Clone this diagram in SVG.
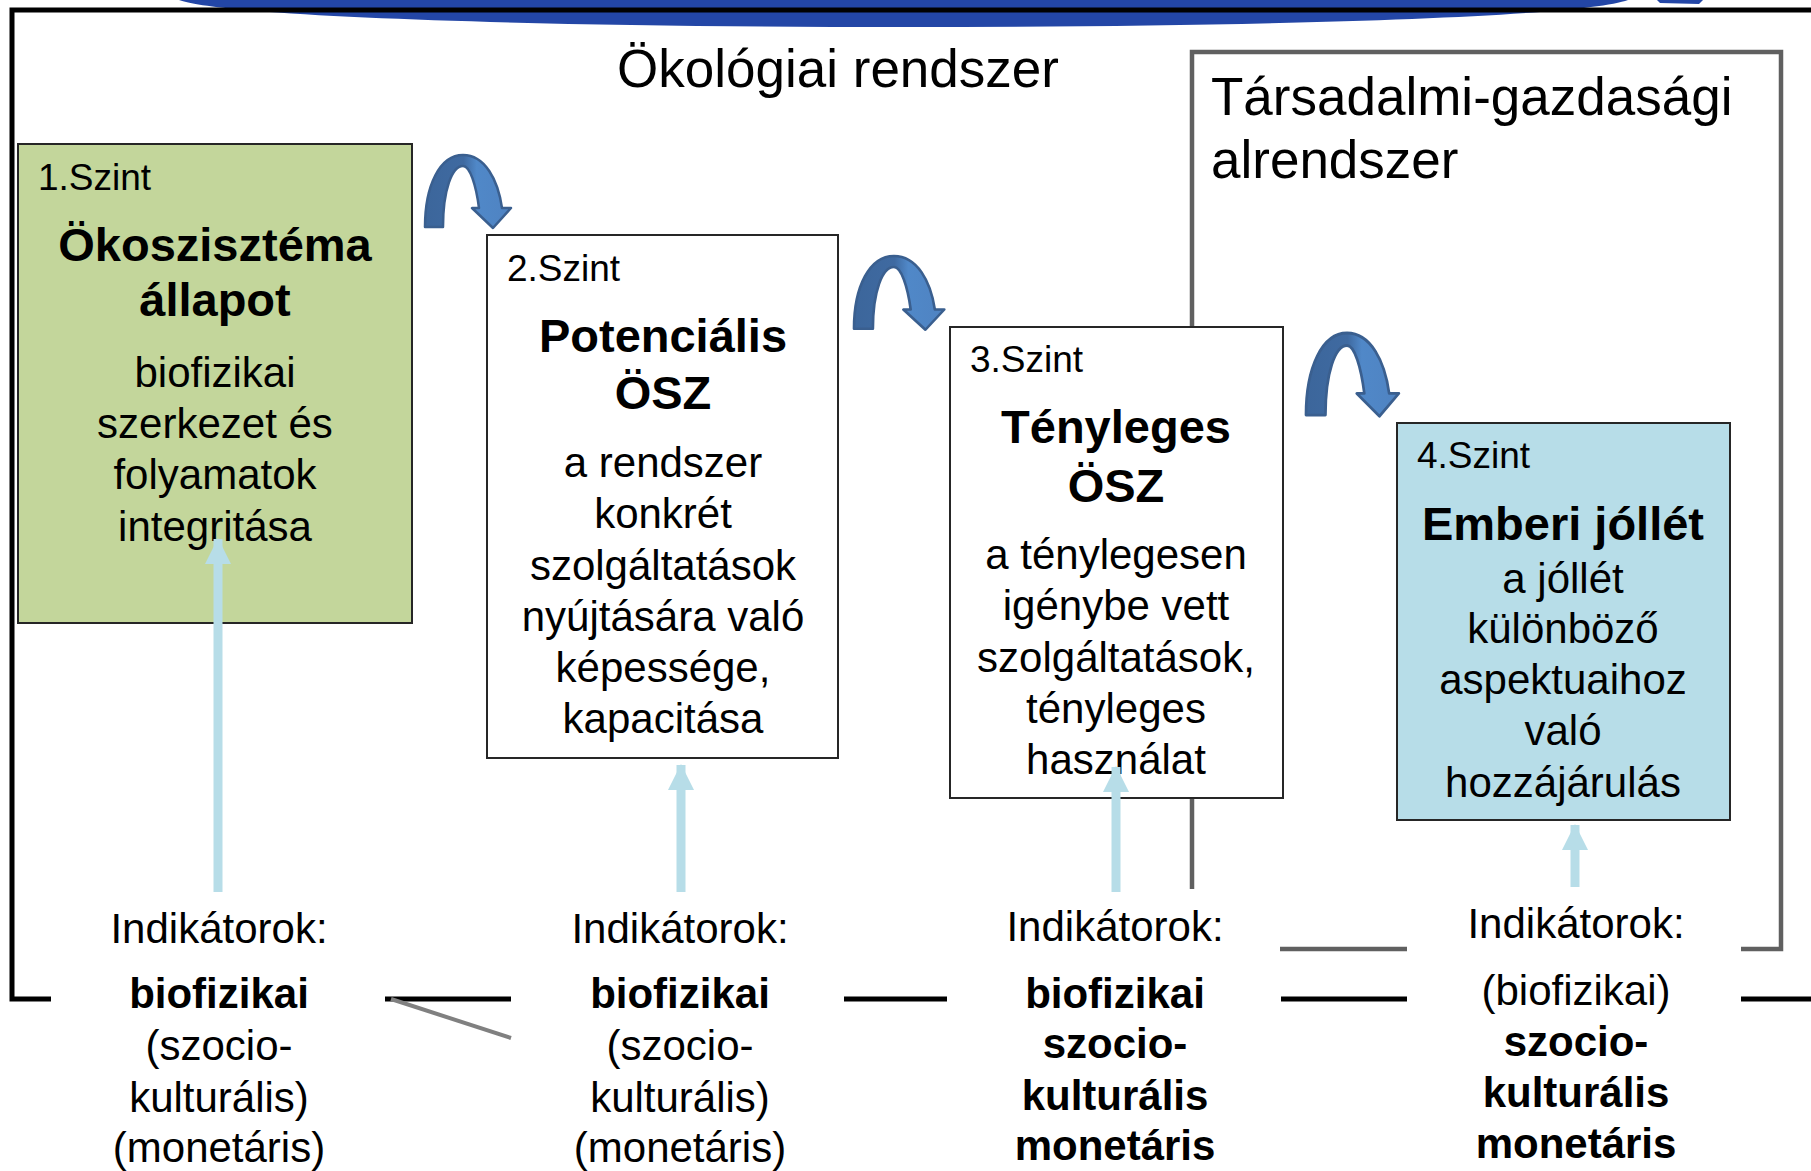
<svg xmlns="http://www.w3.org/2000/svg" width="1811" height="1171" viewBox="0 0 1811 1171">
<defs>
<style>
text{font-family:"Liberation Sans",Arial,sans-serif;fill:#000;}
.lvl{font-size:37px;}
.ttl{font-size:47px;font-weight:bold;text-anchor:middle;}
.bd{font-size:42px;text-anchor:middle;}
.bb{font-size:42px;font-weight:bold;text-anchor:middle;}
.big{font-size:53px;}
.box{stroke:#262626;stroke-width:2;}
.blk{fill:none;stroke:#000;stroke-width:5;}
.gry{fill:none;stroke:#606060;stroke-width:4.5;}
.up{stroke:#b7dde8;stroke-width:9;fill:none;marker-end:url(#uphead);}
.curv{fill:url(#cg);stroke:#3a5f8f;stroke-width:2.5;stroke-linejoin:round;}
</style>
<marker id="uphead" markerUnits="userSpaceOnUse" markerWidth="26" markerHeight="26" viewBox="0 0 26 26" refX="25" refY="13" orient="auto">
<path d="M0,0 L26,13 L0,26 z" fill="#b7dde8"/>
</marker>
<linearGradient id="cg" x1="0" y1="0" x2="1" y2="0">
<stop offset="0" stop-color="#3c669b"/>
<stop offset="0.45" stop-color="#3f6aa1"/>
<stop offset="0.6" stop-color="#5088c8"/>
<stop offset="1" stop-color="#4f83c2"/>
</linearGradient>
<path id="carrow" d="M 425 227 C 425 185, 440 155, 463 155 C 485 155, 498 180, 502 208 L 511 208 L 493 228 L 472 208 L 479 208 C 476 185, 470 166, 463 166 C 452 166, 443 190, 443 227 Z"/>
</defs>
<rect x="0" y="0" width="1811" height="1171" fill="#fff"/>

<g id="frame">
<path d="M 179 0 C 280 36, 1530 36, 1628 0 Z" fill="#2346a6"/>
<path d="M 1657 0 L 1703 0 L 1699 4 L 1660 3 Z" fill="#2346a6"/>
<path class="blk" d="M 51 999 H 12 V 10 H 1811"/>
<path class="blk" d="M 385 999 H 511 M 844 999 H 947 M 1281 999 H 1407 M 1741 999 H 1811"/>
<line x1="391" y1="999" x2="511" y2="1038" stroke="#808080" stroke-width="4"/>
<path class="gry" d="M 1192 889 V 52 H 1781 V 949 H 1741"/>
<path class="gry" d="M 1280 949 H 1407"/>
<text class="big" x="838" y="87" text-anchor="middle">Ökológiai rendszer</text>
<text class="big" x="1211" y="115">Társadalmi-gazdasági</text>
<text class="big" x="1211" y="178">alrendszer</text>
</g>

<g id="node1">
<rect class="box" x="18" y="144" width="394" height="479" fill="#c3d69b"/>
<text class="lvl" x="38" y="190">1.Szint</text>
<text class="ttl" x="215" y="261">Ökoszisztéma</text>
<text class="ttl" x="215" y="316">állapot</text>
<text class="bd" x="215" y="387">biofizikai</text>
<text class="bd" x="215" y="438">szerkezet és</text>
<text class="bd" x="215" y="489">folyamatok</text>
<text class="bd" x="215" y="541">integritása</text>
</g>

<g id="node2">
<rect class="box" x="487" y="235" width="351" height="523" fill="#fff"/>
<text class="lvl" x="507" y="281">2.Szint</text>
<text class="ttl" x="663" y="352">Potenciális</text>
<text class="ttl" x="663" y="409">ÖSZ</text>
<text class="bd" x="663" y="477">a rendszer</text>
<text class="bd" x="663" y="528">konkrét</text>
<text class="bd" x="663" y="580">szolgáltatások</text>
<text class="bd" x="663" y="631">nyújtására való</text>
<text class="bd" x="663" y="682">képessége,</text>
<text class="bd" x="663" y="733">kapacitása</text>
</g>

<g id="node3">
<rect class="box" x="950" y="327" width="333" height="471" fill="#fff"/>
<text class="lvl" x="970" y="372">3.Szint</text>
<text class="ttl" x="1116" y="443">Tényleges</text>
<text class="ttl" x="1116" y="502">ÖSZ</text>
<text class="bd" x="1116" y="569">a ténylegesen</text>
<text class="bd" x="1116" y="620">igénybe vett</text>
<text class="bd" x="1116" y="672">szolgáltatások,</text>
<text class="bd" x="1116" y="723">tényleges</text>
<text class="bd" x="1116" y="774">használat</text>
</g>

<g id="node4">
<rect class="box" x="1397" y="423" width="333" height="397" fill="#b7dde8"/>
<text class="lvl" x="1417" y="468">4.Szint</text>
<text class="ttl" x="1563" y="540">Emberi jóllét</text>
<text class="bd" x="1563" y="593">a jóllét</text>
<text class="bd" x="1563" y="643">különböző</text>
<text class="bd" x="1563" y="694">aspektuaihoz</text>
<text class="bd" x="1563" y="745">való</text>
<text class="bd" x="1563" y="797">hozzájárulás</text>
</g>

<g id="ind1">
<text class="bd" x="219" y="943">Indikátorok:</text>
<text class="bb" x="219" y="1008">biofizikai</text>
<text class="bd" x="219" y="1060">(szocio-</text>
<text class="bd" x="219" y="1112">kulturális)</text>
<text class="bd" x="219" y="1162">(monetáris)</text>
</g>
<g id="ind2">
<text class="bd" x="680" y="943">Indikátorok:</text>
<text class="bb" x="680" y="1008">biofizikai</text>
<text class="bd" x="680" y="1060">(szocio-</text>
<text class="bd" x="680" y="1112">kulturális)</text>
<text class="bd" x="680" y="1162">(monetáris)</text>
</g>
<g id="ind3">
<text class="bd" x="1115" y="941">Indikátorok:</text>
<text class="bb" x="1115" y="1008">biofizikai</text>
<text class="bb" x="1115" y="1058">szocio-</text>
<text class="bb" x="1115" y="1110">kulturális</text>
<text class="bb" x="1115" y="1160">monetáris</text>
</g>
<g id="ind4">
<text class="bd" x="1576" y="938">Indikátorok:</text>
<text class="bd" x="1576" y="1005">(biofizikai)</text>
<text class="bb" x="1576" y="1056">szocio-</text>
<text class="bb" x="1576" y="1107">kulturális</text>
<text class="bb" x="1576" y="1158">monetáris</text>
</g>

<g id="connectors">
<use href="#carrow" class="curv"/>
<use href="#carrow" class="curv" transform="translate(854,256) scale(1.05,1.01) translate(-425,-155)"/>
<use href="#carrow" class="curv" transform="translate(1306,333) scale(1.08,1.14) translate(-425,-155)"/>
<line class="up" x1="218" y1="892" x2="218" y2="539"/>
<line class="up" x1="681" y1="892" x2="681" y2="765"/>
<line class="up" x1="1116" y1="892" x2="1116" y2="767"/>
<line class="up" x1="1575" y1="887" x2="1575" y2="825"/>
</g>
</svg>
